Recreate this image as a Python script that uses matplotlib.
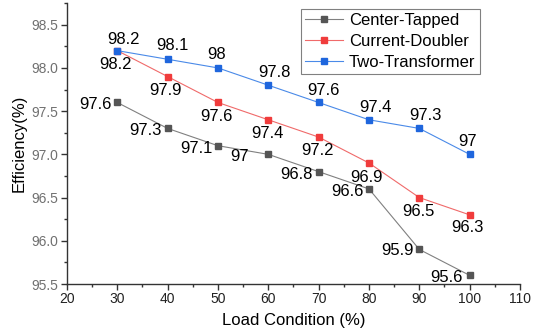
import matplotlib.pyplot as plt
from matplotlib.ticker import MultipleLocator, FormatStrFormatter

plt.rcParams['font.family'] = ['Liberation Sans', 'DejaVu Sans']

load = [30, 40, 50, 60, 70, 80, 90, 100]
center_tapped = [97.6, 97.3, 97.1, 97.0, 96.8, 96.6, 95.9, 95.6]
current_doubler = [98.2, 97.9, 97.6, 97.4, 97.2, 96.9, 96.5, 96.3]
two_transformer = [98.2, 98.1, 98.0, 97.8, 97.6, 97.4, 97.3, 97.0]

ct_labels = ['97.6', '97.3', '97.1', '97', '96.8', '96.6', '95.9', '95.6']
cd_labels = ['98.2', '97.9', '97.6', '97.4', '97.2', '96.9', '96.5', '96.3']
tt_labels = ['98.2', '98.1', '98', '97.8', '97.6', '97.4', '97.3', '97']

fig = plt.figure(figsize=(5.38, 3.34), dpi=100)
ax = fig.add_axes([0.1245, 0.1497, 0.842, 0.841])

ax.plot(load, center_tapped, color='#808080', lw=0.8, marker='s', ms=5,
        mfc='#555555', mec='#555555', label='Center-Tapped')
ax.plot(load, current_doubler, color='#F06A6A', lw=0.8, marker='s', ms=5,
        mfc='#F03C3C', mec='#F03C3C', label='Current-Doubler')
ax.plot(load, two_transformer, color='#4A8AE8', lw=0.8, marker='s', ms=5,
        mfc='#1F66DD', mec='#1F66DD', label='Two-Transformer')

fs = 12
# label centre offsets from the marker, in pixels (y up)
ct_off = [(-22, -1), (-22, -1), (-22, -1), (-29, -1), (-22, -1), (-22, -1), (-22, 0), (-23, -1)]
cd_off = [(-2, -12), (-2, -12), (-2, -13), (-1, -12), (-1, -12), (-2, -13), (-1, -12), (-2, -11)]
tt_off = [(6, 13), (5, 15), (-1, 15), (6, 14), (5, 13), (6, 14), (6, 14), (-2, 14)]

for vals, labels, offs in [(center_tapped, ct_labels, ct_off),
                           (current_doubler, cd_labels, cd_off),
                           (two_transformer, tt_labels, tt_off)]:
    for x, y, t, o in zip(load, vals, labels, offs):
        ax.annotate(t, (x, y), xytext=o, textcoords='offset pixels',
                    fontsize=fs, ha='center', va='center_baseline')

ax.set_xlim(20, 110)
ax.set_ylim(95.5, 98.75)
ax.xaxis.set_major_locator(MultipleLocator(10))
ax.xaxis.set_minor_locator(MultipleLocator(5))
ax.yaxis.set_major_locator(MultipleLocator(0.5))
ax.yaxis.set_minor_locator(MultipleLocator(0.25))
ax.yaxis.set_major_formatter(FormatStrFormatter('%.1f'))

for s in ['top', 'right']:
    ax.spines[s].set_visible(False)
for s in ['left', 'bottom']:
    ax.spines[s].set_color('#333333')
    ax.spines[s].set_linewidth(1.0)

ax.tick_params(axis='both', which='major', length=4, width=1, color='#333333',
               labelsize=10)
ax.tick_params(axis='both', which='minor', length=2.5, width=1, color='#333333')
ax.tick_params(axis='y', labelcolor='#707070', pad=2)
ax.tick_params(axis='x', labelcolor='#222222', pad=2)

ax.set_xlabel('Load Condition (%)', fontsize=12, labelpad=5)
ax.set_ylabel('Efficiency(%)', fontsize=12, labelpad=4)

leg = ax.legend(loc='upper right', bbox_to_anchor=(0.911, 0.979), fontsize=12,
                fancybox=False, edgecolor='#808080', framealpha=1,
                handlelength=2.3, handletextpad=0.35, borderpad=0.25,
                labelspacing=0.36, borderaxespad=0)
leg.get_frame().set_linewidth(0.8)

fig.savefig('out.png', dpi=100)
